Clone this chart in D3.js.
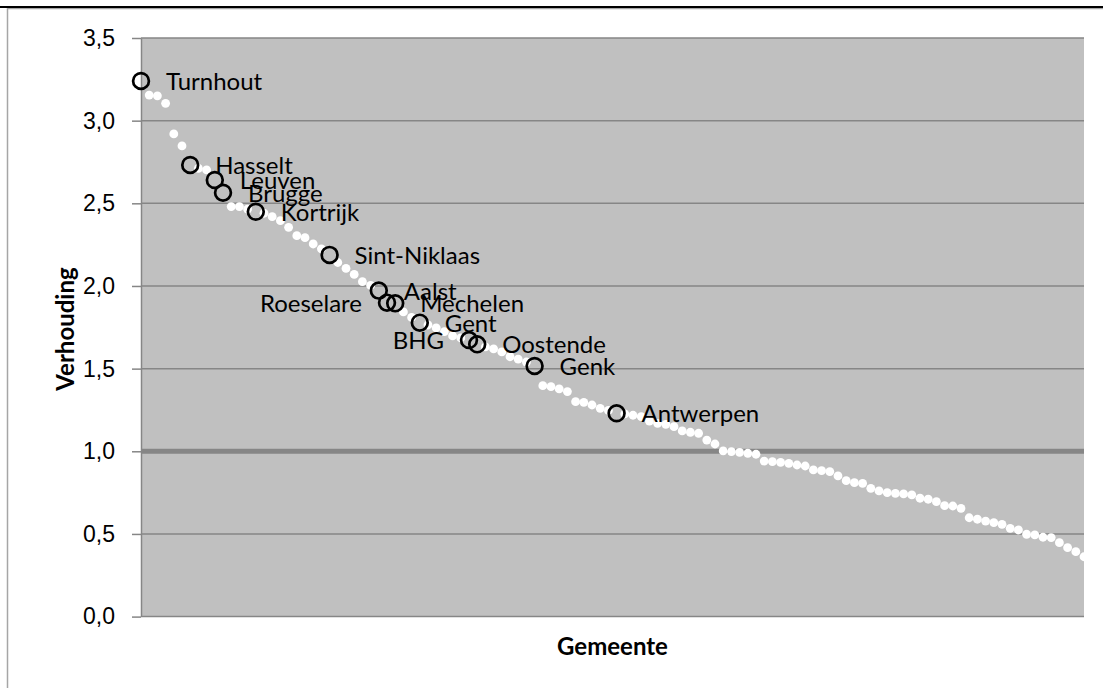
<!DOCTYPE html>
<html>
<head>
<meta charset="utf-8">
<script src="https://cdn.jsdelivr.net/npm/d3@7"></script>
<style>
  body { margin: 0; background: #fff; }
  svg { display: block; font-family: Lato, "Open Sans", sans-serif; }
  .axis path, .axis line { stroke: #868686; stroke-width: 1.5; }
  .axis text { font-size: 23px; fill: #000; }
  .lbl { font-size: 24px; fill: #000; }
  .title { font-size: 24px; font-weight: bold; fill: #000; }
</style>
</head>
<body>
<svg id="chart" width="1103" height="688"></svg>
<script>
// verhouding per gemeente, gesorteerd van hoog naar laag
var ratios = [
  3.24, 3.155, 3.15, 3.105, 2.92, 2.847, 2.732, 2.712, 2.702, 2.641,
  2.564, 2.48, 2.48, 2.465, 2.449, 2.44, 2.419, 2.395, 2.355, 2.304,
  2.292, 2.254, 2.225, 2.188, 2.142, 2.106, 2.07, 2.026, 2.003, 1.972,
  1.899, 1.895, 1.843, 1.81, 1.778, 1.764, 1.746, 1.724, 1.698, 1.686,
  1.673, 1.647, 1.631, 1.619, 1.601, 1.572, 1.557, 1.54, 1.516, 1.397,
  1.391, 1.377, 1.361, 1.30, 1.296, 1.28, 1.26, 1.247, 1.23, 1.226,
  1.218, 1.21, 1.183, 1.169, 1.163, 1.149, 1.123, 1.115, 1.109, 1.068,
  1.044, 1.002, 0.998, 0.994, 0.988, 0.982, 0.941, 0.938, 0.933, 0.927,
  0.917, 0.911, 0.887, 0.883, 0.877, 0.851, 0.822, 0.81, 0.806, 0.776,
  0.76, 0.75, 0.746, 0.742, 0.736, 0.716, 0.71, 0.695, 0.671, 0.669,
  0.655, 0.598, 0.589, 0.578, 0.569, 0.558, 0.534, 0.524, 0.498, 0.494,
  0.48, 0.478, 0.447, 0.417, 0.393, 0.362
];
// centrumsteden en hun plaats in de rangschikking
var cities = ["Turnhout", "Hasselt", "Leuven", "Brugge", "Kortrijk", "Sint-Niklaas", "Aalst",
              "Roeselare", "Mechelen", "Gent", "BHG", "Oostende", "Genk", "Antwerpen"];
var cityRank = [0, 6, 9, 10, 14, 23, 29, 30, 31, 34, 40, 41, 48, 58];
var yTicks = [0, 0.5, 1, 1.5, 2, 2.5, 3, 3.5];
var refLine = 1;

// labels die links van het punt staan
var leftLabels = ["Roeselare", "BHG"];

var svg = d3.select("#chart"),
    margin = {top: 38, right: 19, bottom: 71.4, left: 141},
    width = +svg.attr("width") - margin.left - margin.right,
    height = +svg.attr("height") - margin.top - margin.bottom;

var locale = d3.formatLocale({decimal: ",", thousands: ".", grouping: [3], currency: ["€", ""]});
var fmt = locale.format(".1f");

// kader
svg.append("rect")
  .attr("x", 7.5).attr("y", 8.5)
  .attr("width", 1200).attr("height", 700)
  .attr("fill", "#fff").attr("stroke", "#a6a6a6").attr("stroke-width", 1.5);
svg.append("line")
  .attr("x1", 0).attr("x2", 1103).attr("y1", 7).attr("y2", 7)
  .attr("stroke", "#000").attr("stroke-width", 2);

var g = svg.append("g").attr("transform", "translate(" + margin.left + "," + margin.top + ")");

var x = d3.scaleLinear()
  .domain([0, ratios.length - 1])
  .range([0, width]);

var y = d3.scaleLinear()
  .domain([0, 3.5])
  .range([height, 0]);

g.append("rect")
  .attr("width", width)
  .attr("height", height)
  .attr("fill", "#c0c0c0");

// rasterlijnen
g.append("g")
  .selectAll("line")
  .data(yTicks.filter(function(d) { return d > 0; }))
  .enter().append("line")
    .attr("x1", 0).attr("x2", width)
    .attr("y1", function(d) { return y(d); })
    .attr("y2", function(d) { return y(d); })
    .attr("stroke", "#868686")
    .attr("stroke-width", 1.5);

// referentielijn op 1,0
g.append("line")
  .attr("x1", 0).attr("x2", width)
  .attr("y1", y(refLine)).attr("y2", y(refLine))
  .attr("stroke", "#868686")
  .attr("stroke-width", 5);

g.append("g")
  .attr("class", "axis axis--y")
  .call(d3.axisLeft(y).tickValues(yTicks).tickFormat(fmt).tickSize(9).tickPadding(17).tickSizeOuter(0));

g.append("line")
  .attr("class", "axis")
  .attr("x1", 0).attr("x2", width)
  .attr("y1", height).attr("y2", height)
  .attr("stroke", "#868686").attr("stroke-width", 1.5);

var isCity = {};
cityRank.forEach(function(r) { isCity[r] = true; });

g.append("defs").append("clipPath").attr("id", "clip")
  .append("rect").attr("width", width + 1).attr("height", height);

g.append("g")
  .attr("clip-path", "url(#clip)")
  .selectAll("circle")
  .data(ratios.map(function(v, i) { return {i: i, v: v}; }).filter(function(d) { return !isCity[d.i]; }))
  .enter().append("circle")
    .attr("cx", function(d) { return x(d.i); })
    .attr("cy", function(d) { return y(d.v); })
    .attr("r", 4.4)
    .attr("fill", "#fff");

var marks = cities.map(function(name, k) {
  return {name: name, i: cityRank[k], v: ratios[cityRank[k]]};
});

g.append("g")
  .selectAll("circle")
  .data(marks)
  .enter().append("circle")
    .attr("cx", function(d) { return x(d.i); })
    .attr("cy", function(d) { return y(d.v); })
    .attr("r", 7.9)
    .attr("fill", "none")
    .attr("stroke", "#000")
    .attr("stroke-width", 2.7);

g.append("g")
  .selectAll("text")
  .data(marks)
  .enter().append("text")
    .attr("class", "lbl")
    .attr("x", function(d) { return leftLabels.indexOf(d.name) >= 0 ? x(d.i) - 25 : x(d.i) + 25; })
    .attr("y", function(d) { return y(d.v) + 9; })
    .attr("text-anchor", function(d) { return leftLabels.indexOf(d.name) >= 0 ? "end" : "start"; })
    .text(function(d) { return d.name; });

// astitels
svg.append("text")
  .attr("class", "title")
  .attr("x", margin.left + width / 2)
  .attr("y", 655)
  .attr("text-anchor", "middle")
  .text("Gemeente");

svg.append("text")
  .attr("class", "title")
  .attr("transform", "translate(74,329) rotate(-90)")
  .attr("text-anchor", "middle")
  .text("Verhouding");
</script>
</body>
</html>
